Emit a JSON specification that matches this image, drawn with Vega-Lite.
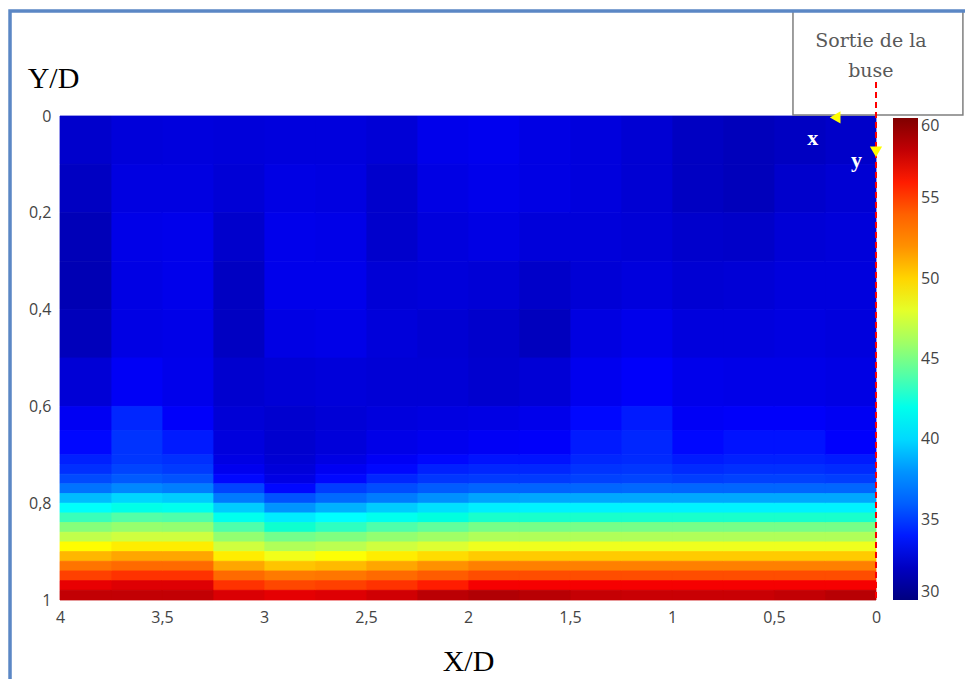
{
"$schema": "https://vega.github.io/schema/vega-lite/v6.json",
"width": 816, "height": 484,
"autosize": "none",
"padding": {"left": 60, "top": 116, "right": 89, "bottom": 79},
"background": "white",
"config": {"view": {"stroke": null}},
"datasets": {"grid": [
{"x0":0,"x1":0.25,"y0":0,"y1":0.1,"t":32.2},{"x0":0,"x1":0.25,"y0":0.1,"y1":0.2,"t":32.5},{"x0":0,"x1":0.25,"y0":0.2,"y1":0.3,"t":32.7},{"x0":0,"x1":0.25,"y0":0.3,"y1":0.4,"t":32.8},{"x0":0,"x1":0.25,"y0":0.4,"y1":0.5,"t":32.8},{"x0":0,"x1":0.25,"y0":0.5,"y1":0.6,"t":33.0},{"x0":0,"x1":0.25,"y0":0.6,"y1":0.65,"t":33.4},{"x0":0,"x1":0.25,"y0":0.65,"y1":0.7,"t":33.7},{"x0":0,"x1":0.25,"y0":0.7,"y1":0.72,"t":34.0},{"x0":0,"x1":0.25,"y0":0.72,"y1":0.74,"t":34.3},{"x0":0,"x1":0.25,"y0":0.74,"y1":0.76,"t":34.8},{"x0":0,"x1":0.25,"y0":0.76,"y1":0.78,"t":36.3},{"x0":0,"x1":0.25,"y0":0.78,"y1":0.8,"t":38.5},{"x0":0,"x1":0.25,"y0":0.8,"y1":0.82,"t":40.8},{"x0":0,"x1":0.25,"y0":0.82,"y1":0.84,"t":43.0},{"x0":0,"x1":0.25,"y0":0.84,"y1":0.86,"t":44.8},{"x0":0,"x1":0.25,"y0":0.86,"y1":0.88,"t":46.5},{"x0":0,"x1":0.25,"y0":0.88,"y1":0.9,"t":48.3},{"x0":0,"x1":0.25,"y0":0.9,"y1":0.92,"t":50.3},{"x0":0,"x1":0.25,"y0":0.92,"y1":0.94,"t":52.5},{"x0":0,"x1":0.25,"y0":0.94,"y1":0.96,"t":54.8},{"x0":0,"x1":0.25,"y0":0.96,"y1":0.98,"t":56.5},{"x0":0,"x1":0.25,"y0":0.98,"y1":1,"t":58.3},
{"x0":0.25,"x1":0.5,"y0":0,"y1":0.1,"t":32.0},{"x0":0.25,"x1":0.5,"y0":0.1,"y1":0.2,"t":32.3},{"x0":0.25,"x1":0.5,"y0":0.2,"y1":0.3,"t":32.6},{"x0":0.25,"x1":0.5,"y0":0.3,"y1":0.4,"t":32.8},{"x0":0.25,"x1":0.5,"y0":0.4,"y1":0.5,"t":32.9},{"x0":0.25,"x1":0.5,"y0":0.5,"y1":0.6,"t":33.1},{"x0":0.25,"x1":0.5,"y0":0.6,"y1":0.65,"t":33.6},{"x0":0.25,"x1":0.5,"y0":0.65,"y1":0.7,"t":33.9},{"x0":0.25,"x1":0.5,"y0":0.7,"y1":0.72,"t":34.1},{"x0":0.25,"x1":0.5,"y0":0.72,"y1":0.74,"t":34.4},{"x0":0.25,"x1":0.5,"y0":0.74,"y1":0.76,"t":34.9},{"x0":0.25,"x1":0.5,"y0":0.76,"y1":0.78,"t":36.3},{"x0":0.25,"x1":0.5,"y0":0.78,"y1":0.8,"t":38.5},{"x0":0.25,"x1":0.5,"y0":0.8,"y1":0.82,"t":40.8},{"x0":0.25,"x1":0.5,"y0":0.82,"y1":0.84,"t":43.0},{"x0":0.25,"x1":0.5,"y0":0.84,"y1":0.86,"t":44.8},{"x0":0.25,"x1":0.5,"y0":0.86,"y1":0.88,"t":46.5},{"x0":0.25,"x1":0.5,"y0":0.88,"y1":0.9,"t":48.3},{"x0":0.25,"x1":0.5,"y0":0.9,"y1":0.92,"t":50.3},{"x0":0.25,"x1":0.5,"y0":0.92,"y1":0.94,"t":52.5},{"x0":0.25,"x1":0.5,"y0":0.94,"y1":0.96,"t":54.8},{"x0":0.25,"x1":0.5,"y0":0.96,"y1":0.98,"t":56.5},{"x0":0.25,"x1":0.5,"y0":0.98,"y1":1,"t":58.0},
{"x0":0.5,"x1":0.75,"y0":0,"y1":0.1,"t":31.8},{"x0":0.5,"x1":0.75,"y0":0.1,"y1":0.2,"t":31.8},{"x0":0.5,"x1":0.75,"y0":0.2,"y1":0.3,"t":32.2},{"x0":0.5,"x1":0.75,"y0":0.3,"y1":0.4,"t":32.6},{"x0":0.5,"x1":0.75,"y0":0.4,"y1":0.5,"t":32.8},{"x0":0.5,"x1":0.75,"y0":0.5,"y1":0.6,"t":33.1},{"x0":0.5,"x1":0.75,"y0":0.6,"y1":0.65,"t":33.6},{"x0":0.5,"x1":0.75,"y0":0.65,"y1":0.7,"t":33.9},{"x0":0.5,"x1":0.75,"y0":0.7,"y1":0.72,"t":34.1},{"x0":0.5,"x1":0.75,"y0":0.72,"y1":0.74,"t":34.4},{"x0":0.5,"x1":0.75,"y0":0.74,"y1":0.76,"t":34.9},{"x0":0.5,"x1":0.75,"y0":0.76,"y1":0.78,"t":36.3},{"x0":0.5,"x1":0.75,"y0":0.78,"y1":0.8,"t":38.5},{"x0":0.5,"x1":0.75,"y0":0.8,"y1":0.82,"t":40.8},{"x0":0.5,"x1":0.75,"y0":0.82,"y1":0.84,"t":43.0},{"x0":0.5,"x1":0.75,"y0":0.84,"y1":0.86,"t":44.8},{"x0":0.5,"x1":0.75,"y0":0.86,"y1":0.88,"t":46.5},{"x0":0.5,"x1":0.75,"y0":0.88,"y1":0.9,"t":48.3},{"x0":0.5,"x1":0.75,"y0":0.9,"y1":0.92,"t":50.3},{"x0":0.5,"x1":0.75,"y0":0.92,"y1":0.94,"t":52.5},{"x0":0.5,"x1":0.75,"y0":0.94,"y1":0.96,"t":54.8},{"x0":0.5,"x1":0.75,"y0":0.96,"y1":0.98,"t":56.5},{"x0":0.5,"x1":0.75,"y0":0.98,"y1":1,"t":57.8},
{"x0":0.75,"x1":1,"y0":0,"y1":0.1,"t":32.0},{"x0":0.75,"x1":1,"y0":0.1,"y1":0.2,"t":32.0},{"x0":0.75,"x1":1,"y0":0.2,"y1":0.3,"t":32.3},{"x0":0.75,"x1":1,"y0":0.3,"y1":0.4,"t":32.5},{"x0":0.75,"x1":1,"y0":0.4,"y1":0.5,"t":32.8},{"x0":0.75,"x1":1,"y0":0.5,"y1":0.6,"t":33.2},{"x0":0.75,"x1":1,"y0":0.6,"y1":0.65,"t":33.5},{"x0":0.75,"x1":1,"y0":0.65,"y1":0.7,"t":33.8},{"x0":0.75,"x1":1,"y0":0.7,"y1":0.72,"t":34.0},{"x0":0.75,"x1":1,"y0":0.72,"y1":0.74,"t":34.3},{"x0":0.75,"x1":1,"y0":0.74,"y1":0.76,"t":34.8},{"x0":0.75,"x1":1,"y0":0.76,"y1":0.78,"t":36.3},{"x0":0.75,"x1":1,"y0":0.78,"y1":0.8,"t":38.5},{"x0":0.75,"x1":1,"y0":0.8,"y1":0.82,"t":40.8},{"x0":0.75,"x1":1,"y0":0.82,"y1":0.84,"t":43.0},{"x0":0.75,"x1":1,"y0":0.84,"y1":0.86,"t":44.8},{"x0":0.75,"x1":1,"y0":0.86,"y1":0.88,"t":46.5},{"x0":0.75,"x1":1,"y0":0.88,"y1":0.9,"t":48.3},{"x0":0.75,"x1":1,"y0":0.9,"y1":0.92,"t":50.3},{"x0":0.75,"x1":1,"y0":0.92,"y1":0.94,"t":52.5},{"x0":0.75,"x1":1,"y0":0.94,"y1":0.96,"t":54.8},{"x0":0.75,"x1":1,"y0":0.96,"y1":0.98,"t":56.5},{"x0":0.75,"x1":1,"y0":0.98,"y1":1,"t":57.8},
{"x0":1,"x1":1.25,"y0":0,"y1":0.1,"t":32.5},{"x0":1,"x1":1.25,"y0":0.1,"y1":0.2,"t":32.5},{"x0":1,"x1":1.25,"y0":0.2,"y1":0.3,"t":32.6},{"x0":1,"x1":1.25,"y0":0.3,"y1":0.4,"t":32.8},{"x0":1,"x1":1.25,"y0":0.4,"y1":0.5,"t":33.2},{"x0":1,"x1":1.25,"y0":0.5,"y1":0.6,"t":33.6},{"x0":1,"x1":1.25,"y0":0.6,"y1":0.65,"t":34.0},{"x0":1,"x1":1.25,"y0":0.65,"y1":0.7,"t":34.2},{"x0":1,"x1":1.25,"y0":0.7,"y1":0.72,"t":34.3},{"x0":1,"x1":1.25,"y0":0.72,"y1":0.74,"t":34.6},{"x0":1,"x1":1.25,"y0":0.74,"y1":0.76,"t":35.0},{"x0":1,"x1":1.25,"y0":0.76,"y1":0.78,"t":36.4},{"x0":1,"x1":1.25,"y0":0.78,"y1":0.8,"t":38.5},{"x0":1,"x1":1.25,"y0":0.8,"y1":0.82,"t":40.8},{"x0":1,"x1":1.25,"y0":0.82,"y1":0.84,"t":43.0},{"x0":1,"x1":1.25,"y0":0.84,"y1":0.86,"t":44.8},{"x0":1,"x1":1.25,"y0":0.86,"y1":0.88,"t":46.5},{"x0":1,"x1":1.25,"y0":0.88,"y1":0.9,"t":48.3},{"x0":1,"x1":1.25,"y0":0.9,"y1":0.92,"t":50.3},{"x0":1,"x1":1.25,"y0":0.92,"y1":0.94,"t":52.5},{"x0":1,"x1":1.25,"y0":0.94,"y1":0.96,"t":54.8},{"x0":1,"x1":1.25,"y0":0.96,"y1":0.98,"t":56.5},{"x0":1,"x1":1.25,"y0":0.98,"y1":1,"t":57.8},
{"x0":1.25,"x1":1.5,"y0":0,"y1":0.1,"t":32.8},{"x0":1.25,"x1":1.5,"y0":0.1,"y1":0.2,"t":32.8},{"x0":1.25,"x1":1.5,"y0":0.2,"y1":0.3,"t":32.7},{"x0":1.25,"x1":1.5,"y0":0.3,"y1":0.4,"t":32.6},{"x0":1.25,"x1":1.5,"y0":0.4,"y1":0.5,"t":32.9},{"x0":1.25,"x1":1.5,"y0":0.5,"y1":0.6,"t":33.3},{"x0":1.25,"x1":1.5,"y0":0.6,"y1":0.65,"t":33.8},{"x0":1.25,"x1":1.5,"y0":0.65,"y1":0.7,"t":34.0},{"x0":1.25,"x1":1.5,"y0":0.7,"y1":0.72,"t":34.2},{"x0":1.25,"x1":1.5,"y0":0.72,"y1":0.74,"t":34.5},{"x0":1.25,"x1":1.5,"y0":0.74,"y1":0.76,"t":34.9},{"x0":1.25,"x1":1.5,"y0":0.76,"y1":0.78,"t":36.3},{"x0":1.25,"x1":1.5,"y0":0.78,"y1":0.8,"t":38.5},{"x0":1.25,"x1":1.5,"y0":0.8,"y1":0.82,"t":40.8},{"x0":1.25,"x1":1.5,"y0":0.82,"y1":0.84,"t":43.0},{"x0":1.25,"x1":1.5,"y0":0.84,"y1":0.86,"t":44.8},{"x0":1.25,"x1":1.5,"y0":0.86,"y1":0.88,"t":46.5},{"x0":1.25,"x1":1.5,"y0":0.88,"y1":0.9,"t":48.3},{"x0":1.25,"x1":1.5,"y0":0.9,"y1":0.92,"t":50.3},{"x0":1.25,"x1":1.5,"y0":0.92,"y1":0.94,"t":52.5},{"x0":1.25,"x1":1.5,"y0":0.94,"y1":0.96,"t":54.8},{"x0":1.25,"x1":1.5,"y0":0.96,"y1":0.98,"t":56.5},{"x0":1.25,"x1":1.5,"y0":0.98,"y1":1,"t":57.9},
{"x0":1.5,"x1":1.75,"y0":0,"y1":0.1,"t":33.0},{"x0":1.5,"x1":1.75,"y0":0.1,"y1":0.2,"t":33.0},{"x0":1.5,"x1":1.75,"y0":0.2,"y1":0.3,"t":32.7},{"x0":1.5,"x1":1.75,"y0":0.3,"y1":0.4,"t":32.2},{"x0":1.5,"x1":1.75,"y0":0.4,"y1":0.5,"t":31.9},{"x0":1.5,"x1":1.75,"y0":0.5,"y1":0.6,"t":32.6},{"x0":1.5,"x1":1.75,"y0":0.6,"y1":0.65,"t":33.2},{"x0":1.5,"x1":1.75,"y0":0.65,"y1":0.7,"t":33.6},{"x0":1.5,"x1":1.75,"y0":0.7,"y1":0.72,"t":33.9},{"x0":1.5,"x1":1.75,"y0":0.72,"y1":0.74,"t":34.2},{"x0":1.5,"x1":1.75,"y0":0.74,"y1":0.76,"t":34.7},{"x0":1.5,"x1":1.75,"y0":0.76,"y1":0.78,"t":36.2},{"x0":1.5,"x1":1.75,"y0":0.78,"y1":0.8,"t":38.5},{"x0":1.5,"x1":1.75,"y0":0.8,"y1":0.82,"t":40.8},{"x0":1.5,"x1":1.75,"y0":0.82,"y1":0.84,"t":43.0},{"x0":1.5,"x1":1.75,"y0":0.84,"y1":0.86,"t":44.8},{"x0":1.5,"x1":1.75,"y0":0.86,"y1":0.88,"t":46.5},{"x0":1.5,"x1":1.75,"y0":0.88,"y1":0.9,"t":48.3},{"x0":1.5,"x1":1.75,"y0":0.9,"y1":0.92,"t":50.3},{"x0":1.5,"x1":1.75,"y0":0.92,"y1":0.94,"t":52.5},{"x0":1.5,"x1":1.75,"y0":0.94,"y1":0.96,"t":54.8},{"x0":1.5,"x1":1.75,"y0":0.96,"y1":0.98,"t":56.5},{"x0":1.5,"x1":1.75,"y0":0.98,"y1":1,"t":58.3},
{"x0":1.75,"x1":2,"y0":0,"y1":0.1,"t":33.3},{"x0":1.75,"x1":2,"y0":0.1,"y1":0.2,"t":33.2},{"x0":1.75,"x1":2,"y0":0.2,"y1":0.3,"t":33.0},{"x0":1.75,"x1":2,"y0":0.3,"y1":0.4,"t":32.6},{"x0":1.75,"x1":2,"y0":0.4,"y1":0.5,"t":32.3},{"x0":1.75,"x1":2,"y0":0.5,"y1":0.6,"t":32.4},{"x0":1.75,"x1":2,"y0":0.6,"y1":0.65,"t":33.0},{"x0":1.75,"x1":2,"y0":0.65,"y1":0.7,"t":33.5},{"x0":1.75,"x1":2,"y0":0.7,"y1":0.72,"t":33.9},{"x0":1.75,"x1":2,"y0":0.72,"y1":0.74,"t":34.2},{"x0":1.75,"x1":2,"y0":0.74,"y1":0.76,"t":34.7},{"x0":1.75,"x1":2,"y0":0.76,"y1":0.78,"t":36.2},{"x0":1.75,"x1":2,"y0":0.78,"y1":0.8,"t":38.4},{"x0":1.75,"x1":2,"y0":0.8,"y1":0.82,"t":40.7},{"x0":1.75,"x1":2,"y0":0.82,"y1":0.84,"t":43.0},{"x0":1.75,"x1":2,"y0":0.84,"y1":0.86,"t":44.8},{"x0":1.75,"x1":2,"y0":0.86,"y1":0.88,"t":46.5},{"x0":1.75,"x1":2,"y0":0.88,"y1":0.9,"t":48.3},{"x0":1.75,"x1":2,"y0":0.9,"y1":0.92,"t":50.3},{"x0":1.75,"x1":2,"y0":0.92,"y1":0.94,"t":52.5},{"x0":1.75,"x1":2,"y0":0.94,"y1":0.96,"t":54.8},{"x0":1.75,"x1":2,"y0":0.96,"y1":0.98,"t":56.5},{"x0":1.75,"x1":2,"y0":0.98,"y1":1,"t":58.5},
{"x0":2,"x1":2.25,"y0":0,"y1":0.1,"t":33.2},{"x0":2,"x1":2.25,"y0":0.1,"y1":0.2,"t":33.0},{"x0":2,"x1":2.25,"y0":0.2,"y1":0.3,"t":32.8},{"x0":2,"x1":2.25,"y0":0.3,"y1":0.4,"t":32.7},{"x0":2,"x1":2.25,"y0":0.4,"y1":0.5,"t":32.5},{"x0":2,"x1":2.25,"y0":0.5,"y1":0.6,"t":32.6},{"x0":2,"x1":2.25,"y0":0.6,"y1":0.65,"t":32.9},{"x0":2,"x1":2.25,"y0":0.65,"y1":0.7,"t":33.3},{"x0":2,"x1":2.25,"y0":0.7,"y1":0.72,"t":33.8},{"x0":2,"x1":2.25,"y0":0.72,"y1":0.74,"t":34.1},{"x0":2,"x1":2.25,"y0":0.74,"y1":0.76,"t":34.6},{"x0":2,"x1":2.25,"y0":0.76,"y1":0.78,"t":35.9},{"x0":2,"x1":2.25,"y0":0.78,"y1":0.8,"t":37.9},{"x0":2,"x1":2.25,"y0":0.8,"y1":0.82,"t":40.2},{"x0":2,"x1":2.25,"y0":0.82,"y1":0.84,"t":42.4},{"x0":2,"x1":2.25,"y0":0.84,"y1":0.86,"t":44.3},{"x0":2,"x1":2.25,"y0":0.86,"y1":0.88,"t":46.0},{"x0":2,"x1":2.25,"y0":0.88,"y1":0.9,"t":47.8},{"x0":2,"x1":2.25,"y0":0.9,"y1":0.92,"t":49.8},{"x0":2,"x1":2.25,"y0":0.92,"y1":0.94,"t":52.0},{"x0":2,"x1":2.25,"y0":0.94,"y1":0.96,"t":54.2},{"x0":2,"x1":2.25,"y0":0.96,"y1":0.98,"t":56.0},{"x0":2,"x1":2.25,"y0":0.98,"y1":1,"t":58.2},
{"x0":2.25,"x1":2.5,"y0":0,"y1":0.1,"t":32.6},{"x0":2.25,"x1":2.5,"y0":0.1,"y1":0.2,"t":32.3},{"x0":2.25,"x1":2.5,"y0":0.2,"y1":0.3,"t":32.3},{"x0":2.25,"x1":2.5,"y0":0.3,"y1":0.4,"t":32.6},{"x0":2.25,"x1":2.5,"y0":0.4,"y1":0.5,"t":32.7},{"x0":2.25,"x1":2.5,"y0":0.5,"y1":0.6,"t":32.6},{"x0":2.25,"x1":2.5,"y0":0.6,"y1":0.65,"t":32.8},{"x0":2.25,"x1":2.5,"y0":0.65,"y1":0.7,"t":33.1},{"x0":2.25,"x1":2.5,"y0":0.7,"y1":0.72,"t":33.5},{"x0":2.25,"x1":2.5,"y0":0.72,"y1":0.74,"t":33.8},{"x0":2.25,"x1":2.5,"y0":0.74,"y1":0.76,"t":34.2},{"x0":2.25,"x1":2.5,"y0":0.76,"y1":0.78,"t":35.3},{"x0":2.25,"x1":2.5,"y0":0.78,"y1":0.8,"t":37.3},{"x0":2.25,"x1":2.5,"y0":0.8,"y1":0.82,"t":39.6},{"x0":2.25,"x1":2.5,"y0":0.82,"y1":0.84,"t":41.9},{"x0":2.25,"x1":2.5,"y0":0.84,"y1":0.86,"t":43.9},{"x0":2.25,"x1":2.5,"y0":0.86,"y1":0.88,"t":45.6},{"x0":2.25,"x1":2.5,"y0":0.88,"y1":0.9,"t":47.4},{"x0":2.25,"x1":2.5,"y0":0.9,"y1":0.92,"t":49.3},{"x0":2.25,"x1":2.5,"y0":0.92,"y1":0.94,"t":51.4},{"x0":2.25,"x1":2.5,"y0":0.94,"y1":0.96,"t":53.6},{"x0":2.25,"x1":2.5,"y0":0.96,"y1":0.98,"t":55.6},{"x0":2.25,"x1":2.5,"y0":0.98,"y1":1,"t":57.6},
{"x0":2.5,"x1":2.75,"y0":0,"y1":0.1,"t":32.8},{"x0":2.5,"x1":2.75,"y0":0.1,"y1":0.2,"t":32.9},{"x0":2.5,"x1":2.75,"y0":0.2,"y1":0.3,"t":33.1},{"x0":2.5,"x1":2.75,"y0":0.3,"y1":0.4,"t":33.2},{"x0":2.5,"x1":2.75,"y0":0.4,"y1":0.5,"t":33.1},{"x0":2.5,"x1":2.75,"y0":0.5,"y1":0.6,"t":32.7},{"x0":2.5,"x1":2.75,"y0":0.6,"y1":0.65,"t":32.6},{"x0":2.5,"x1":2.75,"y0":0.65,"y1":0.7,"t":32.7},{"x0":2.5,"x1":2.75,"y0":0.7,"y1":0.72,"t":33.0},{"x0":2.5,"x1":2.75,"y0":0.72,"y1":0.74,"t":33.4},{"x0":2.5,"x1":2.75,"y0":0.74,"y1":0.76,"t":33.8},{"x0":2.5,"x1":2.75,"y0":0.76,"y1":0.78,"t":34.8},{"x0":2.5,"x1":2.75,"y0":0.78,"y1":0.8,"t":36.5},{"x0":2.5,"x1":2.75,"y0":0.8,"y1":0.82,"t":38.8},{"x0":2.5,"x1":2.75,"y0":0.82,"y1":0.84,"t":41.2},{"x0":2.5,"x1":2.75,"y0":0.84,"y1":0.86,"t":43.3},{"x0":2.5,"x1":2.75,"y0":0.86,"y1":0.88,"t":45.0},{"x0":2.5,"x1":2.75,"y0":0.88,"y1":0.9,"t":46.8},{"x0":2.5,"x1":2.75,"y0":0.9,"y1":0.92,"t":48.7},{"x0":2.5,"x1":2.75,"y0":0.92,"y1":0.94,"t":50.8},{"x0":2.5,"x1":2.75,"y0":0.94,"y1":0.96,"t":53.0},{"x0":2.5,"x1":2.75,"y0":0.96,"y1":0.98,"t":55.2},{"x0":2.5,"x1":2.75,"y0":0.98,"y1":1,"t":57.2},
{"x0":2.75,"x1":3,"y0":0,"y1":0.1,"t":32.8},{"x0":2.75,"x1":3,"y0":0.1,"y1":0.2,"t":33.0},{"x0":2.75,"x1":3,"y0":0.2,"y1":0.3,"t":33.2},{"x0":2.75,"x1":3,"y0":0.3,"y1":0.4,"t":33.2},{"x0":2.75,"x1":3,"y0":0.4,"y1":0.5,"t":33.0},{"x0":2.75,"x1":3,"y0":0.5,"y1":0.6,"t":32.6},{"x0":2.75,"x1":3,"y0":0.6,"y1":0.65,"t":32.4},{"x0":2.75,"x1":3,"y0":0.65,"y1":0.7,"t":32.4},{"x0":2.75,"x1":3,"y0":0.7,"y1":0.72,"t":32.5},{"x0":2.75,"x1":3,"y0":0.72,"y1":0.74,"t":32.7},{"x0":2.75,"x1":3,"y0":0.74,"y1":0.76,"t":33.0},{"x0":2.75,"x1":3,"y0":0.76,"y1":0.78,"t":33.8},{"x0":2.75,"x1":3,"y0":0.78,"y1":0.8,"t":35.5},{"x0":2.75,"x1":3,"y0":0.8,"y1":0.82,"t":38.0},{"x0":2.75,"x1":3,"y0":0.82,"y1":0.84,"t":40.6},{"x0":2.75,"x1":3,"y0":0.84,"y1":0.86,"t":42.9},{"x0":2.75,"x1":3,"y0":0.86,"y1":0.88,"t":44.7},{"x0":2.75,"x1":3,"y0":0.88,"y1":0.9,"t":46.5},{"x0":2.75,"x1":3,"y0":0.9,"y1":0.92,"t":48.4},{"x0":2.75,"x1":3,"y0":0.92,"y1":0.94,"t":50.5},{"x0":2.75,"x1":3,"y0":0.94,"y1":0.96,"t":52.8},{"x0":2.75,"x1":3,"y0":0.96,"y1":0.98,"t":55.0},{"x0":2.75,"x1":3,"y0":0.98,"y1":1,"t":57.0},
{"x0":3,"x1":3.25,"y0":0,"y1":0.1,"t":32.7},{"x0":3,"x1":3.25,"y0":0.1,"y1":0.2,"t":32.6},{"x0":3,"x1":3.25,"y0":0.2,"y1":0.3,"t":32.3},{"x0":3,"x1":3.25,"y0":0.3,"y1":0.4,"t":32.0},{"x0":3,"x1":3.25,"y0":0.4,"y1":0.5,"t":32.0},{"x0":3,"x1":3.25,"y0":0.5,"y1":0.6,"t":32.4},{"x0":3,"x1":3.25,"y0":0.6,"y1":0.65,"t":32.6},{"x0":3,"x1":3.25,"y0":0.65,"y1":0.7,"t":32.8},{"x0":3,"x1":3.25,"y0":0.7,"y1":0.72,"t":33.0},{"x0":3,"x1":3.25,"y0":0.72,"y1":0.74,"t":33.3},{"x0":3,"x1":3.25,"y0":0.74,"y1":0.76,"t":33.8},{"x0":3,"x1":3.25,"y0":0.76,"y1":0.78,"t":35.0},{"x0":3,"x1":3.25,"y0":0.78,"y1":0.8,"t":37.2},{"x0":3,"x1":3.25,"y0":0.8,"y1":0.82,"t":39.6},{"x0":3,"x1":3.25,"y0":0.82,"y1":0.84,"t":41.9},{"x0":3,"x1":3.25,"y0":0.84,"y1":0.86,"t":43.9},{"x0":3,"x1":3.25,"y0":0.86,"y1":0.88,"t":45.6},{"x0":3,"x1":3.25,"y0":0.88,"y1":0.9,"t":47.4},{"x0":3,"x1":3.25,"y0":0.9,"y1":0.92,"t":49.3},{"x0":3,"x1":3.25,"y0":0.92,"y1":0.94,"t":51.4},{"x0":3,"x1":3.25,"y0":0.94,"y1":0.96,"t":53.6},{"x0":3,"x1":3.25,"y0":0.96,"y1":0.98,"t":55.6},{"x0":3,"x1":3.25,"y0":0.98,"y1":1,"t":57.3},
{"x0":3.25,"x1":3.5,"y0":0,"y1":0.1,"t":32.8},{"x0":3.25,"x1":3.5,"y0":0.1,"y1":0.2,"t":32.9},{"x0":3.25,"x1":3.5,"y0":0.2,"y1":0.3,"t":33.2},{"x0":3.25,"x1":3.5,"y0":0.3,"y1":0.4,"t":33.2},{"x0":3.25,"x1":3.5,"y0":0.4,"y1":0.5,"t":33.1},{"x0":3.25,"x1":3.5,"y0":0.5,"y1":0.6,"t":33.2},{"x0":3.25,"x1":3.5,"y0":0.6,"y1":0.65,"t":33.6},{"x0":3.25,"x1":3.5,"y0":0.65,"y1":0.7,"t":34.0},{"x0":3.25,"x1":3.5,"y0":0.7,"y1":0.72,"t":34.4},{"x0":3.25,"x1":3.5,"y0":0.72,"y1":0.74,"t":34.7},{"x0":3.25,"x1":3.5,"y0":0.74,"y1":0.76,"t":35.5},{"x0":3.25,"x1":3.5,"y0":0.76,"y1":0.78,"t":37.4},{"x0":3.25,"x1":3.5,"y0":0.78,"y1":0.8,"t":39.6},{"x0":3.25,"x1":3.5,"y0":0.8,"y1":0.82,"t":41.9},{"x0":3.25,"x1":3.5,"y0":0.82,"y1":0.84,"t":43.9},{"x0":3.25,"x1":3.5,"y0":0.84,"y1":0.86,"t":45.6},{"x0":3.25,"x1":3.5,"y0":0.86,"y1":0.88,"t":47.4},{"x0":3.25,"x1":3.5,"y0":0.88,"y1":0.9,"t":49.3},{"x0":3.25,"x1":3.5,"y0":0.9,"y1":0.92,"t":51.4},{"x0":3.25,"x1":3.5,"y0":0.92,"y1":0.94,"t":53.6},{"x0":3.25,"x1":3.5,"y0":0.94,"y1":0.96,"t":55.6},{"x0":3.25,"x1":3.5,"y0":0.96,"y1":0.98,"t":57.2},{"x0":3.25,"x1":3.5,"y0":0.98,"y1":1,"t":58.0},
{"x0":3.5,"x1":3.75,"y0":0,"y1":0.1,"t":32.7},{"x0":3.5,"x1":3.75,"y0":0.1,"y1":0.2,"t":32.9},{"x0":3.5,"x1":3.75,"y0":0.2,"y1":0.3,"t":33.1},{"x0":3.5,"x1":3.75,"y0":0.3,"y1":0.4,"t":33.0},{"x0":3.5,"x1":3.75,"y0":0.4,"y1":0.5,"t":33.0},{"x0":3.5,"x1":3.75,"y0":0.5,"y1":0.6,"t":33.5},{"x0":3.5,"x1":3.75,"y0":0.6,"y1":0.65,"t":34.2},{"x0":3.5,"x1":3.75,"y0":0.65,"y1":0.7,"t":34.5},{"x0":3.5,"x1":3.75,"y0":0.7,"y1":0.72,"t":34.6},{"x0":3.5,"x1":3.75,"y0":0.72,"y1":0.74,"t":35.0},{"x0":3.5,"x1":3.75,"y0":0.74,"y1":0.76,"t":35.8},{"x0":3.5,"x1":3.75,"y0":0.76,"y1":0.78,"t":37.7},{"x0":3.5,"x1":3.75,"y0":0.78,"y1":0.8,"t":39.9},{"x0":3.5,"x1":3.75,"y0":0.8,"y1":0.82,"t":42.1},{"x0":3.5,"x1":3.75,"y0":0.82,"y1":0.84,"t":44.0},{"x0":3.5,"x1":3.75,"y0":0.84,"y1":0.86,"t":45.7},{"x0":3.5,"x1":3.75,"y0":0.86,"y1":0.88,"t":47.4},{"x0":3.5,"x1":3.75,"y0":0.88,"y1":0.9,"t":49.3},{"x0":3.5,"x1":3.75,"y0":0.9,"y1":0.92,"t":51.4},{"x0":3.5,"x1":3.75,"y0":0.92,"y1":0.94,"t":53.6},{"x0":3.5,"x1":3.75,"y0":0.94,"y1":0.96,"t":55.6},{"x0":3.5,"x1":3.75,"y0":0.96,"y1":0.98,"t":57.2},{"x0":3.5,"x1":3.75,"y0":0.98,"y1":1,"t":58.0},
{"x0":3.75,"x1":4,"y0":0,"y1":0.1,"t":32.3},{"x0":3.75,"x1":4,"y0":0.1,"y1":0.2,"t":32.0},{"x0":3.75,"x1":4,"y0":0.2,"y1":0.3,"t":31.7},{"x0":3.75,"x1":4,"y0":0.3,"y1":0.4,"t":31.6},{"x0":3.75,"x1":4,"y0":0.4,"y1":0.5,"t":31.8},{"x0":3.75,"x1":4,"y0":0.5,"y1":0.6,"t":32.6},{"x0":3.75,"x1":4,"y0":0.6,"y1":0.65,"t":33.4},{"x0":3.75,"x1":4,"y0":0.65,"y1":0.7,"t":33.8},{"x0":3.75,"x1":4,"y0":0.7,"y1":0.72,"t":34.1},{"x0":3.75,"x1":4,"y0":0.72,"y1":0.74,"t":34.4},{"x0":3.75,"x1":4,"y0":0.74,"y1":0.76,"t":35.2},{"x0":3.75,"x1":4,"y0":0.76,"y1":0.78,"t":36.9},{"x0":3.75,"x1":4,"y0":0.78,"y1":0.8,"t":39.1},{"x0":3.75,"x1":4,"y0":0.8,"y1":0.82,"t":41.4},{"x0":3.75,"x1":4,"y0":0.82,"y1":0.84,"t":43.5},{"x0":3.75,"x1":4,"y0":0.84,"y1":0.86,"t":45.2},{"x0":3.75,"x1":4,"y0":0.86,"y1":0.88,"t":47.0},{"x0":3.75,"x1":4,"y0":0.88,"y1":0.9,"t":48.8},{"x0":3.75,"x1":4,"y0":0.9,"y1":0.92,"t":50.9},{"x0":3.75,"x1":4,"y0":0.92,"y1":0.94,"t":53.1},{"x0":3.75,"x1":4,"y0":0.94,"y1":0.96,"t":55.2},{"x0":3.75,"x1":4,"y0":0.96,"y1":0.98,"t":56.9},{"x0":3.75,"x1":4,"y0":0.98,"y1":1,"t":58.0}
]},
"layer": [
{"data": {"name": "grid"},
 "mark": {"type": "rect", "stroke": {"expr": "scale('color', datum.t)"}, "strokeWidth": 0.8},
 "encoding": {
  "x": {"field": "x0", "type": "quantitative",
        "scale": {"domain": [0, 4], "reverse": true, "nice": false, "zero": false},
        "axis": {"title": "X/D", "values": [0, 0.5, 1, 1.5, 2, 2.5, 3, 3.5, 4], "format": "~g",
                 "labelExpr": "replace(datum.label, '.', ',')",
                 "ticks": false, "domain": false, "grid": false, "labelFlush": false,
                 "labelPadding": 9, "labelFont": "Open Sans", "labelFontSize": 16, "labelColor": "#444444",
                 "titleFont": "Liberation Serif", "titleFontSize": 30, "titleFontWeight": "normal",
                 "titleColor": "#000000", "titleY": 70, "titleBaseline": "alphabetic"}},
  "x2": {"field": "x1"},
  "y": {"field": "y0", "type": "quantitative",
        "scale": {"domain": [0, 1], "reverse": true, "nice": false, "zero": false},
        "axis": {"title": "Y/D", "values": [0, 0.2, 0.4, 0.6, 0.8, 1], "format": "~g",
                 "labelExpr": "replace(datum.label, '.', ',')",
                 "ticks": false, "domain": false, "grid": false, "labelFlush": false,
                 "labelPadding": 9, "labelFont": "Open Sans", "labelFontSize": 16, "labelColor": "#444444",
                 "titleAngle": 0, "titleX": -7, "titleY": -29, "titleAlign": "center", "titleBaseline": "alphabetic",
                 "titleFont": "Liberation Serif", "titleFontSize": 30, "titleFontWeight": "normal", "titleColor": "#000000"}},
  "y2": {"field": "y1"},
  "color": {"field": "t", "type": "quantitative",
            "scale": {"type": "linear", "domain": [30, 33.75, 37.5, 41.25, 45, 48.75, 52.5, 56.25, 60],
                      "range": ["#000080", "#0000ff", "#0080ff", "#00ffff", "#80ff80", "#ffff00", "#ff8000", "#ff0000", "#800000"]},
            "legend": {"type": "gradient", "orient": "none", "legendX": 833, "legendY": 2, "direction": "vertical", "title": null,
                       "gradientLength": 482, "gradientThickness": 25, "gradientStrokeWidth": 0,
                       "labelFont": "Open Sans", "labelFontSize": 16, "labelColor": "#444444", "labelOffset": 3}}
 }},
{"data": {"values": [{}]},
 "mark": {"type": "rect", "fill": "#ffffff", "stroke": "#7f7f7f", "strokeWidth": 1.5},
 "encoding": {"x": {"datum": 0.407, "type": "quantitative"}, "x2": {"datum": -0.426},
              "y": {"datum": -0.217, "type": "quantitative"}, "y2": {"datum": -0.002}}},
{"data": {"values": [{}]},
 "mark": {"type": "rule", "color": "#ff0000", "strokeWidth": 2, "strokeDash": [6, 4]},
 "encoding": {"x": {"datum": 0, "type": "quantitative"},
              "y": {"datum": -0.07, "type": "quantitative"}, "y2": {"datum": 1}}},
{"data": {"values": [{}]},
 "mark": {"type": "point", "shape": "triangle-left", "filled": true, "color": "#ffff00", "size": 150, "opacity": 1},
 "encoding": {"x": {"datum": 0.2, "type": "quantitative"}, "y": {"datum": 0.003, "type": "quantitative"}}},
{"data": {"values": [{}]},
 "mark": {"type": "point", "shape": "triangle-down", "filled": true, "color": "#ffff00", "size": 150, "opacity": 1},
 "encoding": {"x": {"datum": 0.0, "type": "quantitative"}, "y": {"datum": 0.074, "type": "quantitative"}}},
{"data": {"values": [{}]},
 "mark": {"type": "text", "text": "x", "font": "Liberation Serif", "fontWeight": "bold", "fontSize": 22, "color": "#ffffff", "align": "center", "baseline": "alphabetic"},
 "encoding": {"x": {"datum": 0.31, "type": "quantitative"}, "y": {"datum": 0.06, "type": "quantitative"}}},
{"data": {"values": [{}]},
 "mark": {"type": "text", "text": "y", "font": "Liberation Serif", "fontWeight": "bold", "fontSize": 22, "color": "#ffffff", "align": "center", "baseline": "alphabetic"},
 "encoding": {"x": {"datum": 0.095, "type": "quantitative"}, "y": {"datum": 0.105, "type": "quantitative"}}},
{"data": {"values": [{}]},
 "mark": {"type": "text", "text": "Sortie de la", "font": "DejaVu Serif", "fontSize": 19, "color": "#595959", "align": "center", "baseline": "alphabetic"},
 "encoding": {"x": {"datum": 0.025, "type": "quantitative"}, "y": {"datum": -0.143, "type": "quantitative"}}},
{"data": {"values": [{}]},
 "mark": {"type": "text", "text": "buse", "font": "DejaVu Serif", "fontSize": 19, "color": "#595959", "align": "center", "baseline": "alphabetic"},
 "encoding": {"x": {"datum": 0.025, "type": "quantitative"}, "y": {"datum": -0.081, "type": "quantitative"}}},
{"data": {"values": [{}]},
 "mark": {"type": "rect", "fill": null, "fillOpacity": 0, "stroke": "#5b87c5", "strokeWidth": 3.5},
 "encoding": {"x": {"datum": 4.245, "type": "quantitative"}, "x2": {"datum": -0.7},
              "y": {"datum": -0.217, "type": "quantitative"}, "y2": {"datum": 1.3}}}
]
}
